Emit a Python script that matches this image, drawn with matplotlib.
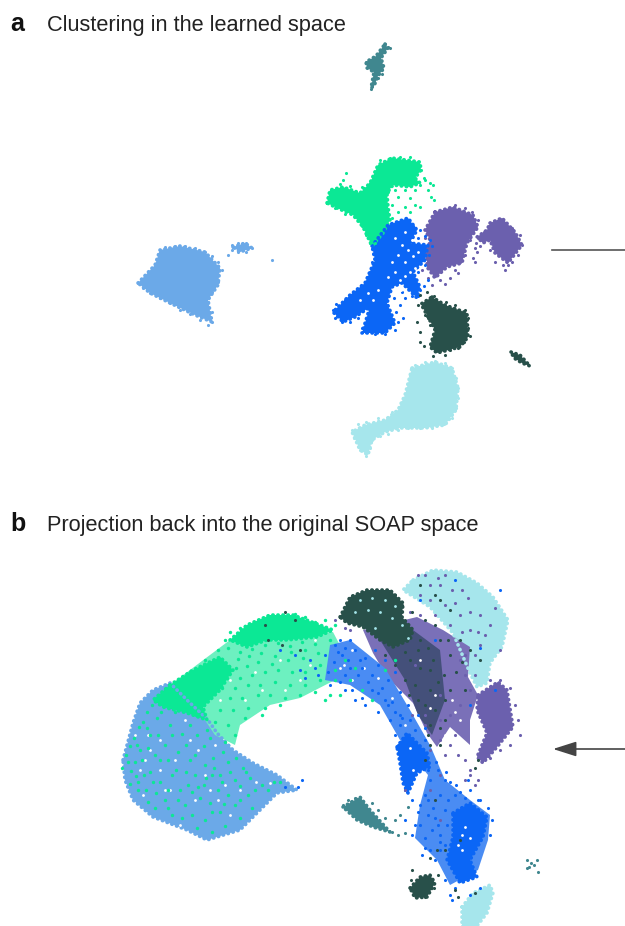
#recreate the two panel cluster scatter
import matplotlib
matplotlib.use('Agg')
import matplotlib.pyplot as plt
import numpy as np

#colours
green='#0be895'
blue='#0b66f6'
purple='#6b60ae'
dark='#28504a'
sky='#6ba9e8'
cyan='#a6e6ec'
teal='#40878f'
#same clusters where the dots are thin and white shows between them
green_thin='#6df0c0'
blue_thin='#4a8cf3'
purple_thin='#7a70b8'
dark_thin='#44507a'

#panel a, outline of the thick part of each cluster
green_a_area=[(327,203),(330,190),(343,187),(360,193),(370,183),(378,165),(392,158),(420,162),(421,170),(415,178),(420,183),(410,187),(393,185),(387,193),(388,207),(390,220),(383,233),(372,246),(363,227),(353,215),(337,208)]
blue_a_area=[(372,246),(388,225),(408,218),(417,230),(410,243),(428,245),(425,260),(413,272),(420,287),(417,298),(402,283),(392,287),(387,303),(395,323),(385,333),(362,333),(370,307),(355,317),(343,322),(333,312),(350,295),(365,283),(375,260)]
purple_a_area=[(435,212),(453,207),(473,215),(478,227),(467,243),(462,263),(447,267),(435,278),(427,267),(427,255),(430,240),(425,230)]
purple_a_area2=[(490,223),(502,218),(515,232),(522,245),(508,263),(495,253),(490,240),(483,243),(477,237),(487,230)]
dark_a_area=[(432,297),(445,305),(467,313),(468,337),(460,347),(437,353),(430,347),(435,330),(428,317),(421,304)]
dark_a_area2=[(511,352),(520,355),(530,366),(522,363),(514,358)]
sky_a_area=[(138,283),(155,265),(160,250),(180,246),(205,252),(220,268),(218,285),(208,300),(212,322),(195,315),(170,303),(150,293)]
sky_a_area2=[(233,247),(245,243),(252,248),(240,252)]
cyan_a_area=[(412,368),(435,362),(452,368),(458,388),(456,410),(445,425),(425,428),(400,428),(385,432),(372,440),(368,455),(360,450),(352,432),(365,425),(385,420),(398,410),(405,395)]
teal_a_area=[(385,44),(388,48),(381,58),(384,68),(378,76),(374,86),(371,88),(374,72),(367,68),(366,62),(376,56)]

#panel a, loose dots round the edges
green_a_dots=[(380,160),(390,158),(400,157),(410,157),(418,162),(421,170),(424,178),(430,183),(433,185),(428,190),(431,197),(434,200),(425,180),(420,185),(415,190),(405,190),(395,190),(388,192),(398,197),(410,198),(415,205),(420,207),(405,207),(392,205),(398,212),(410,212),(387,212),(385,222),(392,218),(340,184),(350,186),(362,187),(370,183),(335,208),(345,214),(358,218),(362,226),(366,235),(370,243),(375,243),(343,180),(346,173)]
blue_a_dots=[(398,222),(405,223),(413,226),(420,230),(425,236),(430,240),(418,238),(432,246),(429,255),(425,265),(418,272),(412,278),(408,285),(402,292),(415,285),(420,290),(412,296),(405,298),(418,296),(428,280),(424,286),(372,262),(370,272),(375,280),(365,282),(362,290),(350,295),(345,300),(336,304),(333,310),(335,318),(342,322),(350,322),(358,318),(362,328),(366,332),(375,334),(385,334),(395,330),(398,322),(396,312),(400,305),(394,298),(403,318)]
purple_a_dots=[(445,210),(455,205),(465,208),(472,212),(478,220),(435,220),(428,228),(425,238),(472,228),(478,238),(484,232),(475,248),(465,255),(460,262),(455,270),(450,278),(440,280),(432,285),(428,278),(422,270),(428,262),(480,246),(490,250),(495,262),(503,265),(512,262),(518,255),(522,245),(520,235),(512,228),(503,222),(495,225),(490,232),(477,252),(473,258),(505,270),(508,265),(435,276),(445,284),(458,273),(475,262),(470,240),(476,243),(482,240)]
dark_a_dots=[(420,295),(427,292),(434,296),(440,302),(446,302),(455,305),(465,310),(468,318),(468,328),(470,336),(464,342),(458,348),(450,350),(440,350),(434,348),(432,340),(436,330),(430,325),(425,315),(418,305),(417,322),(420,332),(420,342),(424,346),(445,355),(433,356),(428,318),(436,318)]
sky_a_dots=[(165,247),(175,246),(185,246),(195,248),(205,252),(212,256),(218,262),(222,270),(218,282),(212,292),(208,302),(212,312),(212,322),(208,325),(200,320),(190,314),(180,310),(170,303),(160,298),(150,293),(143,288),(138,283),(145,276),(152,268),(158,260),(160,252),(232,245),(238,243),(246,243),(252,248),(246,252),(238,252),(232,250),(272,260),(228,255)]
cyan_a_dots=[(415,365),(425,362),(435,361),(445,363),(452,368),(456,378),(458,388),(458,398),(456,408),(452,418),(444,424),(432,428),(420,428),(408,428),(398,430),(388,434),(380,436),(372,440),(370,448),(366,456),(360,450),(354,438),(352,430),(358,424),(366,422),(378,418),(392,412),(402,402),(408,388),(410,376)]
teal_a_dots=[(385,44),(388,47),(390,48),(383,50),(380,54),(375,58),(370,60),(366,62),(372,70),(375,76),(378,78),(374,82),(372,86),(371,89),(382,74)]

#specks of background showing through panel a
white_a=[(395,238),(405,232),(412,240),(402,245),(408,250),(413,256),(398,255),(418,252),(405,262),(395,272),(410,272),(388,277),(378,290),(400,280),(405,276),(392,262),(415,268),(401,290),(373,300),(368,293),(360,300)]

#panel b, outlines of the thick parts
sky_b_area=[(123,760),(133,723),(140,703),(153,690),(170,683),(187,700),(208,720),(217,733),(233,750),(253,763),(277,775),(297,790),(277,793),(263,807),(240,830),(207,840),(187,830),(153,817),(133,800),(125,780)]
cyan_b_area=[(413,580),(433,570),(457,572),(477,583),(493,597),(508,620),(502,647),(490,663),(487,683),(477,687),(470,673),(453,633),(430,607),(403,590)]
cyan_b_area2=[(462,907),(473,893),(490,885),(493,893),(487,913),(477,926),(462,926)]
purple_b_area2=[(478,695),(498,682),(507,690),(513,727),(497,747),(483,763),(477,757),(487,733),(477,710)]
green_b_area=[(230,640),(247,625),(270,615),(293,615),(320,625),(333,630),(317,637),(287,640),(267,640),(247,647)]
green_b_area2=[(170,685),(193,670),(220,657),(233,670),(220,690),(203,707),(207,720),(187,713),(163,707),(153,700)]
dark_b_area=[(340,617),(350,597),(367,590),(390,590),(403,603),(402,617),(413,630),(410,640),(393,647),(380,640),(363,627),(347,623)]
dark_b_area2=[(410,888),(420,877),(430,875),(435,883),(427,897),(415,898)]
blue_b_area=[(397,747),(407,733),(427,753),(430,767),(417,773),(408,793),(403,783),(400,763)]
blue_b_area2=[(453,813),(470,803),(487,817),(483,837),(470,860),(477,877),(460,883),(447,860),(453,837)]
teal_b_area=[(343,807),(360,797),(370,810),(390,832),(373,827),(357,820)]

#panel b, outlines of the thin parts
purple_b_thin=[(363,630),(417,617),(443,630),(470,647),(468,677),(478,695),(470,720),(470,745),(450,727),(437,747),(427,733),(413,703),(387,677),(373,653)]
green_b_thin=[(170,685),(230,640),(333,632),(345,655),(335,680),(300,698),(270,705),(240,725),(235,745),(215,735),(205,720),(190,700)]
blue_b_thin=[(330,645),(350,640),(385,668),(410,710),(430,745),(445,780),(470,800),(490,815),(488,840),(478,870),(450,885),(437,860),(415,838),(420,805),(428,775),(400,740),(380,705),(350,685),(325,680)]
dark_b_thin=[(380,640),(413,630),(440,650),(445,700),(432,735),(418,715),(405,680)]

#panel b, loose dots
green_b_dots=[(230,632),(240,628),(250,625),(262,620),(272,618),(285,616),(295,614),(305,617),(315,622),(325,620),(335,625),(225,640),(218,650),(228,648),(240,652),(252,649),(265,645),(278,643),(290,646),(302,642),(315,644),(330,640),(205,660),(215,662),(238,659),(249,656),(261,653),(275,656),(291,652),(305,650),(318,653),(190,672),(200,668),(236,668),(247,666),(258,662),(272,664),(288,660),(303,658),(180,680),(190,684),(240,678),(252,675),(265,672),(278,670),(292,672),(305,672),(320,665),(172,690),(222,688),(235,688),(248,685),(260,685),(275,682),(290,685),(305,685),(320,680),(335,680),(230,698),(242,698),(258,695),(270,695),(285,698),(300,695),(315,692),(330,695),(220,710),(233,710),(248,708),(265,708),(280,705),(215,722),(228,725),(245,718),(262,715),(225,742),(235,735),(345,660),(355,668),(335,670),(350,680),(362,690),(372,700),(340,695),(325,700),(385,670),(395,660),(160,700),(147,712),(139,727),(130,746),(128,762),(131,771),(130,784),(136,776),(142,760),(137,745),(150,735),(143,722),(157,718),(170,725),(182,734),(165,745),(155,755),(150,772),(146,790),(160,782),(176,770),(190,760),(204,746),(197,735),(178,752),(213,758),(228,762),(212,775),(195,775),(180,790),(165,800),(155,808),(172,815),(185,805),(200,798),(218,790),(235,780),(250,778),(262,785),(248,795),(235,805),(220,812),(205,820),(192,815),(210,803),(228,795),(240,818),(268,790),(280,782),(225,826),(212,832),(188,785),(204,785),(168,760),(138,790),(122,768),(156,793),(172,735),(205,765),(220,775),(243,768),(152,705),(161,712),(147,728),(134,738),(126,755),(140,750),(135,762),(148,748),(158,735),(175,712),(190,725),(196,715),(207,730),(186,745),(195,755),(210,738),(223,752),(160,760),(172,775),(186,772),(198,787),(214,768),(230,772),(144,775),(153,782),(138,782),(168,790),(178,800),(192,792),(206,778),(222,782),(240,786),(255,790),(224,804),(212,812),(197,828),(182,818),(168,808),(148,802),(240,800),(252,808),(274,782),(236,758),(246,772)]
blue_b_dots=[(280,650),(295,655),(310,660),(325,655),(335,645),(300,670),(318,675),(330,685),(345,690),(355,700),(365,705),(378,712),(390,720),(400,725),(408,735),(415,730),(425,740),(372,690),(385,700),(400,715),(410,720),(360,660),(375,650),(385,660),(395,672),(350,640),(340,640),(342,655),(350,668),(358,675),(368,682),(378,693),(388,705),(395,712),(334,662),(345,675),(352,690),(362,698),(315,668),(328,672),(340,682),(305,678),(345,648),(355,650),(365,658),(378,665),(388,680),(400,692),(408,705),(418,715),(425,728),(420,760),(428,770),(430,780),(425,795),(405,790),(412,800),(420,805),(428,800),(440,795),(445,810),(435,818),(432,830),(420,825),(425,838),(440,835),(430,850),(422,855),(440,850),(455,850),(445,845),(492,820),(490,835),(488,808),(478,800),(465,798),(455,795),(445,780),(438,770),(450,782),(460,792),(470,790),(480,800),(470,895),(455,888),(445,880),(450,895),(480,888),(405,820),(412,835),(418,812),(298,787),(302,780),(285,787),(500,590),(455,580),(480,648),(495,690),(470,705),(435,640),(420,600),(402,760),(398,745),(395,735),(428,815),(435,860),(452,900),(468,780),(433,808),(425,848),(438,825),(447,825),(448,800),(440,842),(415,825),(338,652),(348,660),(362,668),(372,675),(382,688),(392,702),(402,718),(412,738),(422,750),(436,762),(446,772),(456,785)]
purple_b_dots=[(420,595),(430,600),(445,605),(460,615),(470,630),(480,645),(475,655),(465,655),(450,625),(435,615),(420,615),(465,675),(475,675),(470,690),(460,705),(450,715),(440,720),(425,715),(430,750),(440,740),(445,755),(425,725),(412,715),(455,735),(465,760),(470,770),(465,780),(475,785),(470,775),(490,680),(500,680),(510,688),(515,705),(518,720),(520,735),(510,745),(500,750),(490,758),(478,780),(450,745),(458,755),(415,665),(440,695),(430,790),(440,775),(460,660),(405,790),(440,820),(350,630),(335,620),(345,628),(480,615),(495,608),(468,598),(440,585),(430,585),(500,650),(410,612),(425,575),(445,575),(462,590),(490,625),(478,632),(452,590),(470,612),(485,635),(455,603),(438,578),(418,575),(462,632)]
dark_b_dots=[(352,598),(362,592),(372,590),(385,592),(395,595),(402,605),(412,612),(425,620),(435,625),(440,640),(450,655),(460,640),(450,610),(440,600),(410,660),(420,668),(430,670),(415,685),(430,690),(425,705),(435,710),(430,725),(445,720),(405,680),(395,665),(385,655),(295,620),(285,612),(265,625),(268,640),(282,645),(300,650),(435,595),(420,585),(470,650),(480,660),(465,690),(450,690),(445,700),(428,735),(440,745),(425,760),(478,760),(475,768),(435,800),(445,850),(437,850),(430,858),(412,870),(411,880),(414,893),(425,897),(434,888),(438,875),(455,890),(458,897),(475,893),(460,840),(418,650),(428,648),(405,652),(420,640),(433,660),(444,675),(456,672),(448,640),(462,662),(438,682),(409,695),(418,700),(440,728),(430,745)]
cyan_b_specks=[(360,600),(372,598),(385,600),(395,606),(368,610),(380,612),(392,618),(355,612),(402,625),(375,628),(408,638)]
teal_b_dots=[(343,805),(348,800),(355,798),(360,800),(365,805),(385,818),(378,810),(395,820),(400,815),(392,832),(398,835),(405,833),(408,807),(372,803),(527,860),(531,863),(534,865),(529,867),(527,868),(537,860),(538,872)]
white_b=[(190,740),(175,760),(150,750),(205,775),(225,785),(240,790),(160,770),(140,770),(135,735),(145,760),(195,800),(180,825),(165,790),(215,745),(256,782),(270,783),(230,815),(148,735),(185,720),(210,790),(143,795),(160,740),(198,750),(170,790),(218,800),(352,650),(364,668),(378,678),(344,665),(392,698),(370,702),(405,725),(385,725),(352,680),(420,660),(435,695),(452,700),(460,720),(445,735),(455,712),(430,708),(462,835),(465,827),(458,845),(470,838),(462,850),(413,770),(410,748),(315,640),(285,690),(262,690),(300,680),(310,665),(325,690),(340,668),(255,672),(230,680),(245,700),(220,700),(280,660)]

#titles and arrows
panel_letters=['a','b']
panel_titles=['Clustering in the learned space','Projection back into the original SOAP space']
title_rows=[26,526]
arrow_rows=[250,749]

fig=plt.figure(figsize=(6.25,9.26),dpi=100)
ax=fig.add_axes([0,0,1,1])
ax.set_xlim(0,625)
ax.set_ylim(926,0)
ax.axis('off')

DOT=5

def area(points,color):
    arr=np.array(points)
    ax.fill(arr[:,0],arr[:,1],color=color,lw=0)
    #dotted stroke so the outline looks made of points
    closed=np.vstack([arr,arr[:1]])
    ax.plot(closed[:,0],closed[:,1],color=color,lw=2.6,ls=(0,(0.1,1.3)),dash_capstyle='round')

def thin_area(points,color):
    arr=np.array(points)
    ax.fill(arr[:,0],arr[:,1],color=color,lw=0)

def dots(points,color,size=DOT):
    arr=np.array(points)
    ax.scatter(arr[:,0],arr[:,1],s=size,c=color,linewidths=0,zorder=3)

#panel a
for shapes,pts,col in [([teal_a_area],teal_a_dots,teal),([sky_a_area,sky_a_area2],sky_a_dots,sky),([cyan_a_area],cyan_a_dots,cyan),([green_a_area],green_a_dots,green),([purple_a_area,purple_a_area2],purple_a_dots,purple),([blue_a_area],blue_a_dots,blue),([dark_a_area,dark_a_area2],dark_a_dots,dark)]:
    for s in shapes:
        area(s,col)
    dots(pts,col)
dots(white_a,'white',4)

#panel b
area(cyan_b_area,cyan)
area(cyan_b_area2,cyan)
area(sky_b_area,sky)
thin_area(green_b_thin,green_thin)
thin_area(purple_b_thin,purple_thin)
area(purple_b_area2,purple)
thin_area(blue_b_thin,blue_thin)
thin_area(dark_b_thin,dark_thin)
for s,col in [(green_b_area,green),(green_b_area2,green),(blue_b_area,blue),(blue_b_area2,blue),(dark_b_area,dark),(dark_b_area2,dark),(teal_b_area,teal)]:
    area(s,col)
dots(white_b,'white',4)
dots(teal_b_dots,teal)
dots(green_b_dots,green,6)
dots(blue_b_dots,blue)
dots(purple_b_dots,purple)
dots(dark_b_dots,dark)
dots(cyan_b_specks,cyan,4)

#panel titles
for letter,title,row in zip(panel_letters,panel_titles,title_rows):
    ax.text(10,row-2,letter,fontsize=18,fontweight='bold',family='Liberation Sans',va='center',color='#111111')
    ax.text(47,row,title,fontsize=15.7,family='Liberation Sans',va='center',color='#222222')

#line in a, arrow in b
ax.plot([552,625],[arrow_rows[0],arrow_rows[0]],color='#555555',lw=1.2)
ax.annotate('',xy=(553,arrow_rows[1]),xytext=(625,arrow_rows[1]),arrowprops=dict(arrowstyle='-|>,head_length=1.1,head_width=0.35',mutation_scale=13,color='#444444',lw=1.2,shrinkA=0,shrinkB=0))

fig.savefig('out.png',dpi=100)
